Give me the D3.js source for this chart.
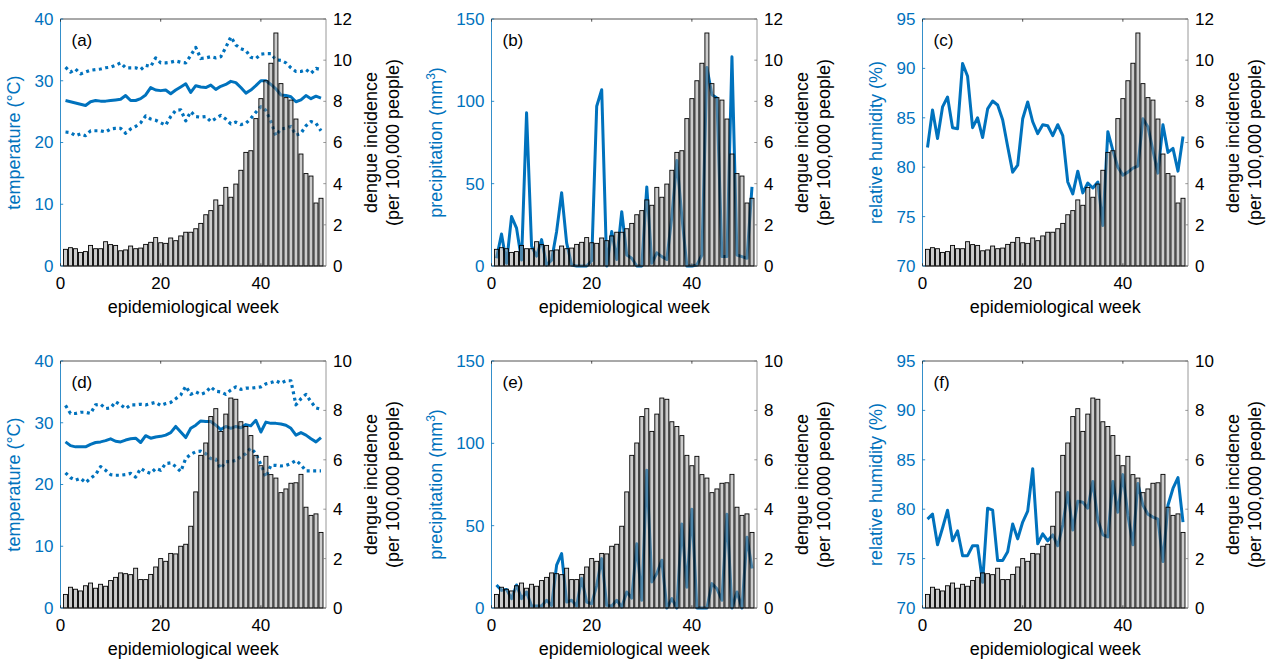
<!DOCTYPE html>
<html>
<head>
<meta charset="utf-8">
<script src="https://cdn.jsdelivr.net/npm/d3@7"></script>
<style>
  body { margin: 0; background: #fff; }
  svg { display: block; font-family: "Liberation Sans", Arial, Helvetica, sans-serif; }
</style>
</head>
<body>
<div id="chart"></div>
<script>
// weekly data
const weeks = d3.range(1, 53);

const dengueTop = [0.81, 0.89, 0.84, 0.66, 0.70, 1.00, 0.84, 0.84, 1.18, 1.04, 1.00, 0.74, 0.78,
    0.97, 0.84, 0.87, 1.05, 1.15, 1.38, 1.13, 1.10, 1.36, 1.23, 1.46, 1.64, 1.64, 1.81, 2.07,
    2.49, 2.69, 3.21, 2.95, 3.82, 3.34, 3.98, 4.65, 5.52, 5.60, 7.16, 8.13, 9.00, 9.85, 11.32,
    8.86, 8.18, 8.06, 7.14, 5.44, 4.49, 4.37, 3.06, 3.29];

const dengueBottom = [0.55, 0.84, 0.76, 0.69, 0.90, 1.01, 0.80, 0.96, 0.88, 1.11, 1.24, 1.42,
    1.39, 1.35, 1.61, 1.15, 1.15, 1.36, 1.66, 2.00, 1.89, 2.21, 2.19, 2.50, 2.58, 3.31, 4.70,
    6.18, 6.68, 7.75, 8.07, 7.15, 7.85, 8.50, 8.45, 7.54, 7.35, 6.98, 6.18, 5.76, 6.14, 5.40,
    5.26, 4.67, 4.82, 5.05, 5.07, 5.41, 4.08, 3.75, 3.81, 3.06];

const tempMeanA = [26.8, 26.6, 26.4, 26.2, 26.0, 26.6, 26.8, 26.7, 26.7, 26.8, 26.9, 27.0, 27.6,
    26.8, 26.8, 27.1, 27.7, 28.9, 28.5, 28.4, 28.5, 27.9, 28.5, 29.0, 29.5, 28.1, 29.2, 29.0,
    28.9, 29.3, 28.6, 29.1, 29.4, 29.9, 29.7, 28.9, 28.0, 28.5, 29.2, 30.0, 30.0, 29.4, 28.7,
    27.7, 27.6, 27.4, 26.6, 26.9, 27.6, 27.1, 27.5, 27.2];
const tempMaxA = [32.2, 31.4, 31.9, 31.1, 31.4, 31.7, 31.8, 31.9, 32.1, 32.2, 32.5, 32.9, 32.1,
    32.1, 32.1, 31.8, 32.5, 32.3, 33.7, 32.9, 32.9, 33.0, 33.2, 33.0, 32.9, 34.1, 35.4, 33.6,
    33.7, 33.9, 33.7, 33.9, 35.4, 37.1, 35.8, 35.2, 34.9, 33.8, 33.6, 34.3, 34.4, 34.4, 33.4,
    33.3, 32.9, 32.1, 31.5, 31.5, 31.8, 31.2, 32.0, 31.8];
const tempMinA = [21.7, 21.6, 21.1, 21.4, 21.1, 21.9, 21.9, 21.9, 21.7, 22.2, 22.3, 22.3, 21.5,
    22.2, 22.6, 23.2, 24.3, 23.8, 23.6, 23.2, 22.8, 24.2, 25.2, 25.3, 23.5, 25.0, 24.2, 24.1,
    24.2, 23.4, 23.9, 24.4, 23.8, 23.0, 23.3, 22.9, 23.1, 23.9, 24.9, 25.8, 25.2, 23.4, 21.1,
    22.2, 22.3, 22.6, 21.2, 21.5, 22.7, 23.4, 23.1, 21.9];

const precipB = [4.7, 19.4, 1.6, 30, 23, 3.6, 93, 12, 6, 16, 0.6, 3.6, 21, 44.5, 14, 0.6, 0, 0,
    0, 3.2, 97, 107, 0, 21, 4, 33, 6.7, 4.7, 0, 0, 48, 1.6, 8, 5.7, 4, 30, 64, 30, 0, 0, 0.6,
    6.7, 120.6, 104, 102, 5.7, 5.7, 127, 6.7, 5.7, 4.7, 48];

const humidC = [82.0, 85.8, 82.9, 86.1, 87.1, 84.0, 83.9, 90.5, 89.2, 84.0, 85.0, 83.0, 85.9,
    86.7, 86.3, 84.8, 82.1, 79.5, 80.2, 84.9, 86.6, 84.6, 83.4, 84.3, 84.2, 83.2, 84.3, 83.2,
    78.5, 77.3, 79.6, 77.4, 78.4, 77.9, 78.5, 74.1, 83.6, 81.7, 80.0, 79.2, 79.5, 79.9, 80.1,
    84.9, 84.1, 81.7, 79.4, 84.3, 81.5, 81.9, 79.6, 83.1];

const tempMeanD = [26.9, 26.3, 26.1, 26.1, 26.1, 26.5, 26.8, 26.9, 27.1, 27.4, 27.0, 26.9, 27.2,
    27.4, 27.5, 26.8, 27.9, 27.5, 27.7, 27.8, 28.0, 28.4, 29.4, 28.5, 27.6, 29.1, 29.6, 30.3,
    30.2, 30.2, 29.6, 28.9, 29.4, 29.1, 29.4, 29.2, 29.7, 29.5, 30.4, 28.5, 30.1, 29.9, 29.9,
    29.8, 29.6, 29.1, 28.0, 28.4, 28.0, 27.4, 26.9, 27.6];
const tempMaxD = [32.8, 31.5, 31.5, 31.7, 31.7, 31.5, 32.9, 33.0, 32.3, 32.4, 33.4, 32.9, 32.3,
    32.9, 32.9, 33.0, 32.9, 33.1, 33.3, 32.8, 33.1, 33.3, 33.9, 34.5, 35.9, 34.6, 35.0, 34.6,
    34.9, 35.8, 35.1, 35.0, 34.6, 35.3, 35.8, 35.4, 35.6, 35.6, 35.7, 35.8, 36.3, 36.5, 36.8,
    36.4, 36.8, 36.8, 32.9, 33.9, 34.6, 33.4, 32.4, 32.2];
const tempMinD = [21.9, 21.1, 20.7, 21.0, 20.3, 21.0, 21.6, 22.9, 22.3, 21.6, 21.5, 21.5, 21.6,
    21.8, 21.2, 22.6, 22.1, 21.8, 22.6, 22.3, 23.4, 23.5, 22.9, 22.1, 24.2, 24.9, 25.3, 25.4,
    25.0, 24.2, 24.1, 22.6, 23.7, 23.7, 23.9, 24.5, 25.0, 25.9, 25.0, 23.2, 21.2, 23.1, 23.1,
    23.0, 23.1, 23.4, 23.9, 23.2, 22.2, 22.2, 22.2, 22.2];

const precipE = [14, 10.7, 11.3, 5.7, 14, 5.7, 9.7, 1.2, 1.2, 1.2, 4.7, 1.6, 26, 33, 3.6, 4.7,
    1.2, 18, 3.6, 2.6, 13.8, 30, 1.6, 1.2, 4.7, 0.6, 9.7, 6, 39, 4.7, 83.6, 15.8, 21, 29, 0,
    5.7, 0, 51, 12.6, 60, 0, 0, 0, 14.8, 11.7, 4.7, 57, 0, 9.7, 0, 43, 24];

const humidF = [79.0, 79.5, 76.4, 78.1, 79.9, 76.8, 77.8, 75.3, 75.3, 76.3, 76.3, 72.6, 80.1,
    79.9, 74.8, 74.8, 75.7, 78.5, 77.0, 78.7, 79.8, 84.1, 76.5, 77.5, 76.8, 77.4, 76.3, 78.4,
    81.7, 77.9, 80.8, 80.7, 80.1, 82.8, 78.9, 77.4, 77.2, 82.8, 79.7, 83.5, 79.4, 76.4, 82.6,
    80.4, 79.5, 79.2, 79.0, 74.7, 80.4, 82.1, 83.2, 78.7];

// tick labels
const weekTicks = [0, 20, 40];
const tempTicks = [0, 10, 20, 30, 40];
const precipTicks = [0, 50, 100, 150];
const humidTicks = [70, 75, 80, 85, 90, 95];
const dengueTicksTop = [0, 2, 4, 6, 8, 10, 12];
const dengueTicksBottom = [0, 2, 4, 6, 8, 10];

const blue = "#0072BD";
const ink = "#262626";
const W = 1272, H = 661;
const plotW = 265.5;
const colLeft = [60.5, 491.5, 922.5];
const rowTop = [19, 361];
const plotH = 247;

const panels = [
    {tag: "(a)", col: 0, row: 0, yDomain: [0, 40], yTicks: tempTicks, yLabel: "temperature (°C)",
        series: [{v: tempMaxA, dot: true}, {v: tempMeanA}, {v: tempMinA, dot: true}],
        dengue: dengueTop, dDomain: [0, 12], dTicks: dengueTicksTop},
    {tag: "(b)", col: 1, row: 0, yDomain: [0, 150], yTicks: precipTicks, yLabel: "precipitation",
        series: [{v: precipB}], dengue: dengueTop, dDomain: [0, 12], dTicks: dengueTicksTop},
    {tag: "(c)", col: 2, row: 0, yDomain: [70, 95], yTicks: humidTicks, yLabel: "relative humidity (%)",
        series: [{v: humidC}], dengue: dengueTop, dDomain: [0, 12], dTicks: dengueTicksTop},
    {tag: "(d)", col: 0, row: 1, yDomain: [0, 40], yTicks: tempTicks, yLabel: "temperature (°C)",
        series: [{v: tempMaxD, dot: true}, {v: tempMeanD}, {v: tempMinD, dot: true}],
        dengue: dengueBottom, dDomain: [0, 10], dTicks: dengueTicksBottom},
    {tag: "(e)", col: 1, row: 1, yDomain: [0, 150], yTicks: precipTicks, yLabel: "precipitation",
        series: [{v: precipE}], dengue: dengueBottom, dDomain: [0, 10], dTicks: dengueTicksBottom},
    {tag: "(f)", col: 2, row: 1, yDomain: [70, 95], yTicks: humidTicks, yLabel: "relative humidity (%)",
        series: [{v: humidF}], dengue: dengueBottom, dDomain: [0, 10], dTicks: dengueTicksBottom}
];

const svg = d3.select("#chart").append("svg")
    .attr("width", W)
    .attr("height", H);

panels.forEach(p => {
    const g = svg.append("g")
        .attr("transform", `translate(${colLeft[p.col]},${rowTop[p.row]})`);

    const x = d3.scaleLinear().domain([0, 53]).range([0, plotW]);
    const y = d3.scaleLinear().domain(p.yDomain).range([plotH, 0]);
    const yR = d3.scaleLinear().domain(p.dDomain).range([plotH, 0]);

    // lines (left axis) go underneath the bars
    const line = d3.line()
        .x((d, i) => x(weeks[i]))
        .y(d => y(d));

    p.series.forEach(s => {
        g.append("path")
            .datum(s.v)
            .attr("d", line)
            .attr("fill", "none")
            .attr("stroke", blue)
            .attr("stroke-width", s.dot ? 3.2 : 3)
            .attr("stroke-linejoin", "round")
            .attr("stroke-dasharray", s.dot ? "3,3.5" : null);
    });

    // bars (right axis)
    const bw = 4;
    g.append("g").selectAll("rect")
        .data(p.dengue)
        .enter()
        .append("rect")
        .attr("x", (d, i) => x(weeks[i]) - bw / 2)
        .attr("y", d => yR(d))
        .attr("width", bw)
        .attr("height", d => plotH - yR(d))
        .attr("fill", "#9a9a9a")
        .attr("fill-opacity", 0.5)
        .attr("stroke", "#000")
        .attr("stroke-width", 0.9);

    // box lines
    g.append("line").attr("x1", 0).attr("x2", plotW).attr("y1", 0).attr("y2", 0)
        .attr("stroke", ink).attr("stroke-width", 0.8);
    g.append("line").attr("x1", 0).attr("x2", plotW).attr("y1", plotH).attr("y2", plotH)
        .attr("stroke", ink).attr("stroke-width", 0.8);
    g.append("line").attr("x1", plotW).attr("x2", plotW).attr("y1", 0).attr("y2", plotH)
        .attr("stroke", "#7f7f7f").attr("stroke-width", 0.8);
    g.append("line").attr("x1", 0).attr("x2", 0).attr("y1", 0).attr("y2", plotH)
        .attr("stroke", blue).attr("stroke-width", 0.8);

    const tl = 2.7;
    // x ticks (bottom and top, pointing in)
    weekTicks.forEach(t => {
        g.append("line").attr("x1", x(t)).attr("x2", x(t)).attr("y1", plotH).attr("y2", plotH - tl)
            .attr("stroke", ink).attr("stroke-width", 0.8);
        g.append("line").attr("x1", x(t)).attr("x2", x(t)).attr("y1", 0).attr("y2", tl)
            .attr("stroke", ink).attr("stroke-width", 0.8);
    });
    g.append("g").selectAll("text")
        .data(weekTicks)
        .enter()
        .append("text")
        .attr("x", d => x(d))
        .attr("y", plotH + 23)
        .attr("text-anchor", "middle")
        .attr("font-size", 17)
        .attr("fill", "#000")
        .text(d => d);

    // left ticks
    p.yTicks.forEach(t => {
        g.append("line").attr("x1", 0).attr("x2", tl).attr("y1", y(t)).attr("y2", y(t))
            .attr("stroke", blue).attr("stroke-width", 0.8);
    });
    g.append("g").selectAll("text")
        .data(p.yTicks)
        .enter()
        .append("text")
        .attr("x", -7)
        .attr("y", d => y(d))
        .attr("dy", "0.35em")
        .attr("text-anchor", "end")
        .attr("font-size", 17)
        .attr("fill", blue)
        .text(d => d);

    // right ticks
    p.dTicks.forEach(t => {
        g.append("line").attr("x1", plotW).attr("x2", plotW - tl).attr("y1", yR(t)).attr("y2", yR(t))
            .attr("stroke", "#7f7f7f").attr("stroke-width", 0.8);
    });
    g.append("g").selectAll("text")
        .data(p.dTicks)
        .enter()
        .append("text")
        .attr("x", plotW + 7)
        .attr("y", d => yR(d))
        .attr("dy", "0.35em")
        .attr("text-anchor", "start")
        .attr("font-size", 17)
        .attr("fill", "#000")
        .text(d => d);

    // panel tag
    g.append("text")
        .attr("x", 11)
        .attr("y", 27)
        .attr("font-size", 17)
        .attr("fill", "#000")
        .text(p.tag);

    // x label
    g.append("text")
        .attr("x", plotW / 2)
        .attr("y", plotH + 47)
        .attr("text-anchor", "middle")
        .attr("font-size", 18)
        .attr("fill", "#000")
        .text("epidemiological week");

    // left label
    const offL = p.yDomain[1] >= 100 ? 50 : 41;
    const yl = g.append("text")
        .attr("transform", `translate(${-offL},${plotH / 2}) rotate(-90)`)
        .attr("text-anchor", "middle")
        .attr("font-size", 18)
        .attr("fill", blue)
        .text(p.yLabel);
    if (p.yLabel === "precipitation") {
        yl.text(null);
        yl.append("tspan").text("precipitation (mm");
        yl.append("tspan").attr("dy", -7).attr("font-size", 12).text("3");
        yl.append("tspan").attr("dy", 7).text(")");
    }

    // right label
    const rl = g.append("text")
        .attr("transform", `translate(${plotW + 51},${plotH / 2}) rotate(-90)`)
        .attr("text-anchor", "middle")
        .attr("font-size", 18)
        .attr("fill", "#000");
    rl.append("tspan").attr("x", 0).attr("dy", 0).text("dengue incidence");
    rl.append("tspan").attr("x", 0).attr("dy", 22).text("(per 100,000 people)");
});
</script>
</body>
</html>
